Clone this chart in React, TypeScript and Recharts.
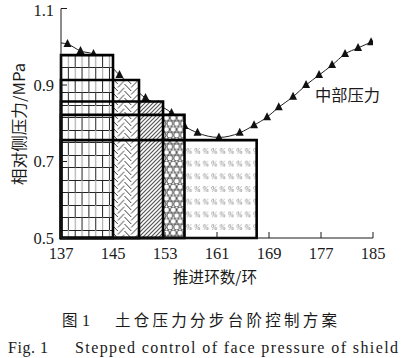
import React from 'react';
import { ComposedChart, Line, XAxis, YAxis, ReferenceArea } from 'recharts';

// ---- data ----
const ringNumbers = [137, 138, 140, 142, 144, 146, 148, 150, 152, 154, 156, 158, 161.3, 164.5, 166.7, 168.7, 170.5, 172.7, 174.7, 176.7, 178.7, 180.7, 182.7, 184.7];
const middlePressure = [1.010, 1.007, 0.989, 0.981, 0.960, 0.926, 0.895, 0.866, 0.848, 0.827, 0.793, 0.775, 0.763, 0.775, 0.795, 0.816, 0.842, 0.869, 0.900, 0.926, 0.952, 0.981, 0.997, 1.012];

const stepStart = 137;
const stepEnds = [145, 149, 152.7, 156, 167.1];
const stepLevels = [0.978, 0.913, 0.857, 0.822, 0.756];
const stepPatterns = ['pBrick', 'pHerring', 'pHatch', 'pHex', 'pPercent'];

const xTicks = [137, 145, 153, 161, 169, 177, 185];
const yTicks = [0.5, 0.7, 0.9, 1.1];

const seriesName = '中部压力';
const xAxisTitle = '推进环数/环';
const yAxisTitle = '相对侧压力/MPa';
const captionCnFig = '图';
const captionCnNo = '1';
const captionCn = '土仓压力分步台阶控制方案';
const captionEnNo = 'Fig. 1';
const captionEn = 'Stepped control of face pressure of shield';

const data = ringNumbers.map((r, i) => ({ ring: r, pressure: middlePressure[i] }));

const serif = '"Liberation Serif", "DejaVu Serif", serif';
const cjk = '"Noto Sans CJK SC", sans-serif';
const ink = '#1a1a1a';
const chartMargin = { top: 8.5, right: 30, bottom: 90, left: 21 };
const plotMargin = { top: 8.5, right: 30, bottom: 120, left: 61 };

const Triangle = (props: any) => {
  const { cx, cy, index } = props;
  if (index === 0 || cx == null || cy == null) return <g key={`d${index}`} />;
  return (
    <path
      key={`d${index}`}
      d={`M${cx},${cy - 5} L${cx - 4},${cy + 3} L${cx + 4},${cy + 3} Z`}
      fill="#111"
      stroke="none"
    />
  );
};

const Patterns = () => (
  <svg width={0} height={0} style={{ position: 'absolute' }}>
    <defs>
      <pattern id="pBrick" patternUnits="userSpaceOnUse" x={61} y={55} width={13.7} height={25}>
        <rect width={13.7} height={25} fill="#fff" />
        <line x1={0} y1={0.5} x2={13.7} y2={0.5} stroke="#222" strokeWidth={1} />
        <line x1={0} y1={12.5} x2={13.7} y2={12.5} stroke="#222" strokeWidth={1} />
        <line x1={0.5} y1={0} x2={0.5} y2={12.5} stroke="#222" strokeWidth={1} />
        <line x1={7.35} y1={0} x2={7.35} y2={12.5} stroke="#aaa" strokeWidth={1.2} />
        <line x1={7.35} y1={12.5} x2={7.35} y2={25} stroke="#222" strokeWidth={1} />
        <line x1={0.5} y1={12.5} x2={0.5} y2={25} stroke="#aaa" strokeWidth={1.2} />
      </pattern>
      <pattern id="pHerring" patternUnits="userSpaceOnUse" x={111} y={0} width={13.5} height={14}>
        <rect width={13.5} height={14} fill="#fff" />
        <path
          d="M0,0 L6.75,7 M0,7 L6.75,14 M0,-7 L6.75,0 M6.75,3.5 L13.5,-3.5 M6.75,10.5 L13.5,3.5 M6.75,17.5 L13.5,10.5"
          stroke="#222"
          strokeWidth={0.9}
          fill="none"
        />
      </pattern>
      <pattern id="pHatch" patternUnits="userSpaceOnUse" x={0} y={0} width={4} height={4}>
        <rect width={4} height={4} fill="#fff" />
        <path d="M-1,1 L1,-1 M0,4 L4,0 M3,5 L5,3" stroke="#555" strokeWidth={1.2} />
      </pattern>
      <pattern id="pHex" patternUnits="userSpaceOnUse" x={163} y={0} width={6.8} height={11.5}>
        <rect width={6.8} height={11.5} fill="#fff" />
        <circle cx={3.4} cy={2.9} r={3} fill="none" stroke="#222" strokeWidth={0.8} />
        <circle cx={0} cy={8.65} r={3} fill="none" stroke="#222" strokeWidth={0.8} />
        <circle cx={6.8} cy={8.65} r={3} fill="none" stroke="#222" strokeWidth={0.8} />
      </pattern>
      <pattern id="pPercent" patternUnits="userSpaceOnUse" x={185} y={146} width={8.4} height={12.7}>
        <rect width={8.4} height={12.7} fill="#fff" />
        <text x={1} y={8} fontSize={7.5} fill="#777" fontFamily={serif} fontStyle="italic">%</text>
      </pattern>
    </defs>
  </svg>
);

const xAxisBase = {
  dataKey: 'ring',
  type: 'number' as const,
  domain: [137, 185],
  ticks: xTicks,
  allowDataOverflow: true,
};
const yAxisBase = {
  type: 'number' as const,
  domain: [0.5, 1.1],
  ticks: yTicks,
  allowDataOverflow: true,
};

export default function App() {
  return (
    <div style={{ position: 'absolute', left: 0, top: 0, width: 403, height: 358, background: '#fff', overflow: 'hidden' }}>
      <Patterns />
      {/* bottom layer: the pressure curve (same plot box as the top layer) */}
      <div style={{ position: 'absolute', left: 0, top: 0 }}>
        <ComposedChart width={403} height={358} data={data} margin={plotMargin}>
          <XAxis {...xAxisBase} hide />
          <YAxis {...yAxisBase} hide />
          <Line
            type="monotone"
            dataKey="pressure"
            name={seriesName}
            stroke="#222"
            strokeWidth={1}
            dot={Triangle}
            activeDot={false}
            isAnimationActive={false}
          />
        </ComposedChart>
      </div>
      {/* top layer: stepped pressure control blocks and axes */}
      <div style={{ position: 'absolute', left: 0, top: 0 }}>
        <ComposedChart width={403} height={358} data={data} margin={chartMargin}>
          <XAxis
            {...xAxisBase}
            height={30}
            tickSize={-6}
            tickMargin={15}
            stroke={ink}
            tick={{ fill: ink, fontSize: 16.5, fontFamily: serif }}
            axisLine={{ stroke: ink, strokeWidth: 1 }}
            tickLine={{ stroke: ink, strokeWidth: 1 }}
          />
          <YAxis
            {...yAxisBase}
            width={40}
            tickSize={-6}
            tickMargin={13}
            stroke={ink}
            tickFormatter={(v: number) => v.toFixed(1)}
            tick={{ fill: ink, fontSize: 16.5, fontFamily: serif }}
            axisLine={{ stroke: ink, strokeWidth: 1 }}
            tickLine={{ stroke: ink, strokeWidth: 1 }}
          />
          {stepEnds.map((end, i) => (
            <ReferenceArea
              key={`fill${i}`}
              x1={i === 0 ? stepStart : stepEnds[i - 1]}
              x2={end}
              y1={0.5}
              y2={stepLevels[i]}
              fill={`url(#${stepPatterns[i]})`}
              fillOpacity={1}
              stroke="none"
              ifOverflow="visible"
            />
          ))}
          {stepEnds.map((end, i) => (
            <ReferenceArea
              key={`outline${i}`}
              x1={stepStart}
              x2={end}
              y1={0.5}
              y2={stepLevels[i]}
              fill="none"
              fillOpacity={0}
              stroke="#000"
              strokeWidth={2.6}
              ifOverflow="visible"
            />
          ))}
        </ComposedChart>
      </div>
      <svg width={403} height={358} style={{ position: 'absolute', left: 0, top: 0, pointerEvents: 'none' }}>
        <text x={315} y={101} fontSize={16} fontFamily={cjk} fill={ink} textLength={65} lengthAdjust="spacingAndGlyphs">{seriesName}</text>
        <text x={173} y={283} fontSize={15.5} fontFamily={cjk} fill={ink} textLength={84} lengthAdjust="spacingAndGlyphs">{xAxisTitle}</text>
        <text
          x={0}
          y={0}
          transform="translate(25,185) rotate(-90)"
          fontSize={15.5}
          fontFamily={cjk}
          fill={ink}
          textLength={122}
          lengthAdjust="spacingAndGlyphs"
        >
          {yAxisTitle}
        </text>
        <text x={62} y={326} fontSize={15.5} fontFamily={cjk} fill={ink}>{captionCnFig}</text>
        <text x={82} y={326} fontSize={16} fontFamily={serif} fill={ink}>{captionCnNo}</text>
        <text x={115} y={326} fontSize={15.5} fontFamily={cjk} fill={ink} textLength={222} lengthAdjust="spacing">{captionCn}</text>
        <text x={8} y={353} fontSize={16} fontFamily={serif} fill={ink} textLength={40} lengthAdjust="spacing">{captionEnNo}</text>
        <text x={75} y={353} fontSize={16} fontFamily={serif} fill={ink} textLength={323} lengthAdjust="spacing">{captionEn}</text>
      </svg>
    </div>
  );
}
